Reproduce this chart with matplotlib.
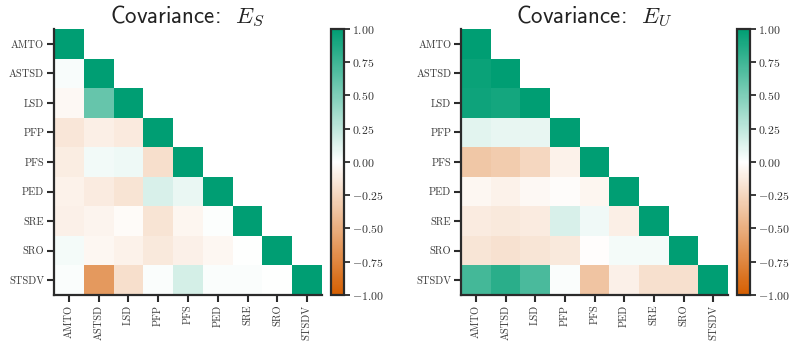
import numpy as np
import matplotlib
matplotlib.use("Agg")
import matplotlib.pyplot as plt
from matplotlib.colors import LinearSegmentedColormap

plt.rcParams["mathtext.fontset"] = "cm"

labels = ["AMTO", "ASTSD", "LSD", "PFP", "PFS", "PED", "SRE", "SRO", "STSDV"]

# lower-triangle entries, row by row (below the diagonal)
cov_s_rows = [
    [],
    [0.03],
    [-0.04, 0.60],
    [-0.15, -0.10, -0.13],
    [-0.11, 0.05, 0.07, -0.20],
    [-0.08, -0.12, -0.17, 0.15, 0.08],
    [-0.09, -0.07, -0.03, -0.17, -0.06, 0.01],
    [0.04, -0.05, -0.08, -0.14, -0.09, -0.05, 0.00],
    [0.02, -0.63, -0.20, 0.02, 0.17, 0.02, 0.02, 0.00],
]
cov_u_rows = [
    [],
    [0.96],
    [0.94, 0.92],
    [0.11, 0.09, 0.09],
    [-0.35, -0.32, -0.25, -0.08],
    [-0.05, -0.08, -0.04, -0.02, -0.06],
    [-0.12, -0.14, -0.12, 0.15, 0.06, -0.10],
    [-0.16, -0.18, -0.16, -0.14, -0.01, 0.04, 0.04],
    [0.73, 0.83, 0.71, 0.02, -0.36, -0.09, -0.19, -0.19],
]

cbar_ticks = [-1.0, -0.75, -0.5, -0.25, 0.0, 0.25, 0.5, 0.75, 1.0]

cmap = LinearSegmentedColormap.from_list("og", ["#D55E00", "#FFFFFF", "#009E73"])
dark = "#2b2b2b"


def build(rows):
    n = len(labels)
    m = np.full((n, n), np.nan)
    for i, r in enumerate(rows):
        for j, v in enumerate(r):
            m[i, j] = v
        m[i, i] = 1.0
    return np.ma.masked_invalid(m)


def draw(ax, cax, rows, sub):
    m = build(rows)
    n = len(labels)
    mesh = ax.pcolormesh(np.arange(n + 1), np.arange(n + 1), m, cmap=cmap,
                         vmin=-1, vmax=1, edgecolor="face", linewidth=0)
    ax.set_xlim(0, n)
    ax.set_ylim(n, 0)
    ax.set_xticks(np.arange(n) + 0.5)
    ax.set_yticks(np.arange(n) + 0.5)
    ax.set_xticklabels(labels, rotation=90, fontfamily="cmr10", fontsize=7.5, color="#3a3a3a")
    ax.set_yticklabels(labels, fontfamily="cmr10", fontsize=7.5, color="#3a3a3a")
    for s in ["top", "right"]:
        ax.spines[s].set_visible(False)
    for s in ["left", "bottom"]:
        ax.spines[s].set_color(dark)
        ax.spines[s].set_linewidth(1.6)
    ax.tick_params(direction="out", length=5, width=1.5, color=dark, pad=2)
    ax.set_title("Covariance:  $E_{%s}$" % sub, fontfamily="cmss10", fontsize=16.5,
                 color="#222222", pad=4)

    cb = plt.colorbar(mesh, cax=cax, ticks=cbar_ticks)
    cb.outline.set_edgecolor(dark)
    cb.outline.set_linewidth(1.6)
    cb.ax.tick_params(direction="out", length=4, width=1.3, color=dark, pad=2)
    cb.ax.set_yticklabels(["$%.2f$" % t for t in cbar_ticks], fontsize=8.5, color="#333333")


fig = plt.figure(figsize=(7.89, 3.41), dpi=100)
ax1 = fig.add_axes([0.0684, 0.135, 0.3397, 0.780])
cax1 = fig.add_axes([0.4195, 0.135, 0.0165, 0.780])
ax2 = fig.add_axes([0.5843, 0.135, 0.3384, 0.780])
cax2 = fig.add_axes([0.934, 0.135, 0.0165, 0.780])

draw(ax1, cax1, cov_s_rows, "S")
draw(ax2, cax2, cov_u_rows, "U")

fig.savefig("out.png", dpi=100)
